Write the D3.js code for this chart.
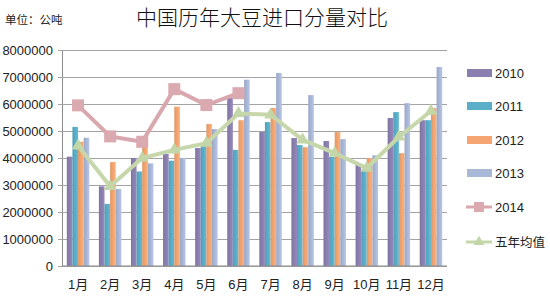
<!DOCTYPE html>
<html>
<head>
<meta charset="utf-8">
<script src="https://cdn.jsdelivr.net/npm/d3@7"></script>
<style>
  body { margin: 0; background: #fff; }
  svg { font-family: "Liberation Sans", "Noto Sans CJK SC", sans-serif; }
</style>
</head>
<body>
<svg></svg>
<script>
  let months = ['1月', '2月', '3月', '4月', '5月', '6月', '7月', '8月', '9月', '10月', '11月', '12月']
  let v2010 = [4050000, 2950000, 4000000, 4150000, 4370000, 6220000, 4970000, 4740000, 4630000, 3740000, 5480000, 5400000]
  let v2011 = [5150000, 2300000, 3500000, 3900000, 4440000, 4300000, 5330000, 4480000, 4040000, 3550000, 5700000, 5400000]
  let v2012 = [4600000, 3850000, 4630000, 5900000, 5260000, 5400000, 5850000, 4400000, 4960000, 4000000, 4180000, 5850000]
  let v2013 = [4750000, 2850000, 3800000, 4000000, 5070000, 6900000, 7150000, 6330000, 4700000, 4100000, 6030000, 7370000]
  let v2014 = [5950000, 4800000, 4600000, 6550000, 5960000, 6400000]
  let avg5 = [4450000, 2950000, 4000000, 4300000, 4550000, 5650000, 5600000, 4670000, 4180000, 3630000, 4780000, 5740000]
  let yTicks = [0, 1000000, 2000000, 3000000, 4000000, 5000000, 6000000, 7000000, 8000000]

  let barSeries = [
    { name: '2010', values: v2010, color: '#8b7fb0' },
    { name: '2011', values: v2011, color: '#5aaec8' },
    { name: '2012', values: v2012, color: '#f4a571' },
    { name: '2013', values: v2013, color: '#aab8d8' }
  ]

  let svgWidth = 550, svgHeight = 300
  let plotLeft = 62, plotRight = 447, plotTop = 50, plotBottom = 266

  let svg = d3.select('svg')
    .attr('width', svgWidth)
    .attr('height', svgHeight)

  // gradients for the bars (darker at left edge, like the Excel look)
  let defs = svg.append('defs')
  barSeries.forEach(function (s, i) {
    let g = defs.append('linearGradient').attr('id', 'g' + i)
      .attr('x1', '0').attr('x2', '1').attr('y1', '0').attr('y2', '0')
    g.append('stop').attr('offset', '0%').attr('stop-color', d3.color(s.color).darker(0.25))
    g.append('stop').attr('offset', '55%').attr('stop-color', s.color)
    g.append('stop').attr('offset', '100%').attr('stop-color', d3.color(s.color).brighter(0.2))
  })

  let x0 = d3.scaleBand().domain(months).range([plotLeft, plotRight]).paddingInner(0.3).paddingOuter(0.15)
  let x1 = d3.scaleBand().domain(barSeries.map(d => d.name)).range([0, x0.bandwidth()])
  let y = d3.scaleLinear().domain([0, 8000000]).range([plotBottom, plotTop])

  // gridlines + y axis
  let yAxis = svg.append('g')
    .attr('transform', `translate(${plotLeft},0)`)
    .call(d3.axisLeft(y).tickValues(yTicks).tickSize(-(plotRight - plotLeft)).tickSizeOuter(0).tickPadding(9).tickFormat(d3.format('d')))
  yAxis.select('.domain').attr('stroke', '#8c8c8c')
  yAxis.selectAll('.tick line').attr('stroke', '#a3a3a3').attr('x1', -4)
  yAxis.selectAll('.tick text').attr('font-size', 13).attr('fill', '#222')

  // bars
  barSeries.forEach(function (s, i) {
    svg.append('g').selectAll('rect')
      .data(s.values)
      .enter()
      .append('rect')
      .attr('x', (d, j) => x0(months[j]) + x1(s.name))
      .attr('y', d => y(d))
      .attr('width', x1.bandwidth())
      .attr('height', d => plotBottom - y(d))
      .attr('fill', 'url(#g' + i + ')')
  })

  // bottom axis line
  svg.append('line')
    .attr('x1', plotLeft).attr('x2', plotRight)
    .attr('y1', plotBottom).attr('y2', plotBottom)
    .attr('stroke', '#8c8c8c')

  let cx = (d, j) => x0(months[j]) + x0.bandwidth() / 2
  let line = d3.line().x(cx).y(d => y(d))

  // 2014
  svg.append('path')
    .datum(v2014)
    .attr('d', line)
    .attr('fill', 'none')
    .attr('stroke', '#d9a7ae')
    .attr('stroke-width', 4)
  svg.append('g').selectAll('rect')
    .data(v2014)
    .enter()
    .append('rect')
    .attr('x', (d, j) => cx(d, j) - 6)
    .attr('y', d => y(d) - 6)
    .attr('width', 12)
    .attr('height', 12)
    .attr('fill', '#dba9b0')

  // five-year average
  let tri = d3.symbol().type(d3.symbolTriangle).size(70)
  svg.append('path')
    .datum(avg5)
    .attr('d', line)
    .attr('fill', 'none')
    .attr('stroke', '#c6d8ab')
    .attr('stroke-width', 4)
  svg.append('g').selectAll('path')
    .data(avg5)
    .enter()
    .append('path')
    .attr('d', tri)
    .attr('transform', (d, j) => `translate(${cx(d, j)},${y(d)})`)
    .attr('fill', '#c3d6a8')

  // x labels
  svg.append('g').selectAll('text')
    .data(months)
    .enter()
    .append('text')
    .attr('x', d => x0(d) + x0.bandwidth() / 2)
    .attr('y', 289)
    .attr('text-anchor', 'middle')
    .attr('font-size', 13)
    .attr('fill', '#222')
    .text(d => d)

  // title + unit
  svg.append('text')
    .attr('x', 262).attr('y', 25)
    .attr('text-anchor', 'middle')
    .attr('font-size', 21)
    .attr('font-family', '"Noto Sans CJK SC"')
    .attr('font-weight', 300)
    .attr('fill', '#111')
    .text('中国历年大豆进口分量对比')
  svg.append('text')
    .attr('x', 5).attr('y', 24)
    .attr('font-size', 11.5)
    .attr('font-family', '"Noto Sans CJK SC"')
    .attr('fill', '#222')
    .text('单位：公吨')

  // legend
  let legend = svg.append('g').attr('font-size', 13).attr('fill', '#222')
  let legendY = [73, 106, 140, 173, 207, 242]
  barSeries.forEach(function (s, i) {
    legend.append('rect')
      .attr('x', 467).attr('y', legendY[i] - 4)
      .attr('width', 25).attr('height', 8)
      .attr('fill', s.color)
    legend.append('text')
      .attr('x', 495).attr('y', legendY[i] + 5)
      .text(s.name)
  })
  legend.append('line')
    .attr('x1', 466).attr('x2', 492).attr('y1', legendY[4]).attr('y2', legendY[4])
    .attr('stroke', '#d9a7ae').attr('stroke-width', 3)
  legend.append('rect')
    .attr('x', 474).attr('y', legendY[4] - 5).attr('width', 10).attr('height', 10)
    .attr('fill', '#dba9b0')
  legend.append('text').attr('x', 495).attr('y', legendY[4] + 5).text('2014')
  legend.append('line')
    .attr('x1', 466).attr('x2', 492).attr('y1', legendY[5]).attr('y2', legendY[5])
    .attr('stroke', '#c6d8ab').attr('stroke-width', 3)
  legend.append('path')
    .attr('d', d3.symbol().type(d3.symbolTriangle).size(50))
    .attr('transform', `translate(479,${legendY[5]})`)
    .attr('fill', '#c3d6a8')
  legend.append('text').attr('x', 495).attr('y', legendY[5] + 5)
    .attr('font-family', '"Noto Sans CJK SC"').attr('font-size', 12.5)
    .text('五年均值')
</script>
</body>
</html>
